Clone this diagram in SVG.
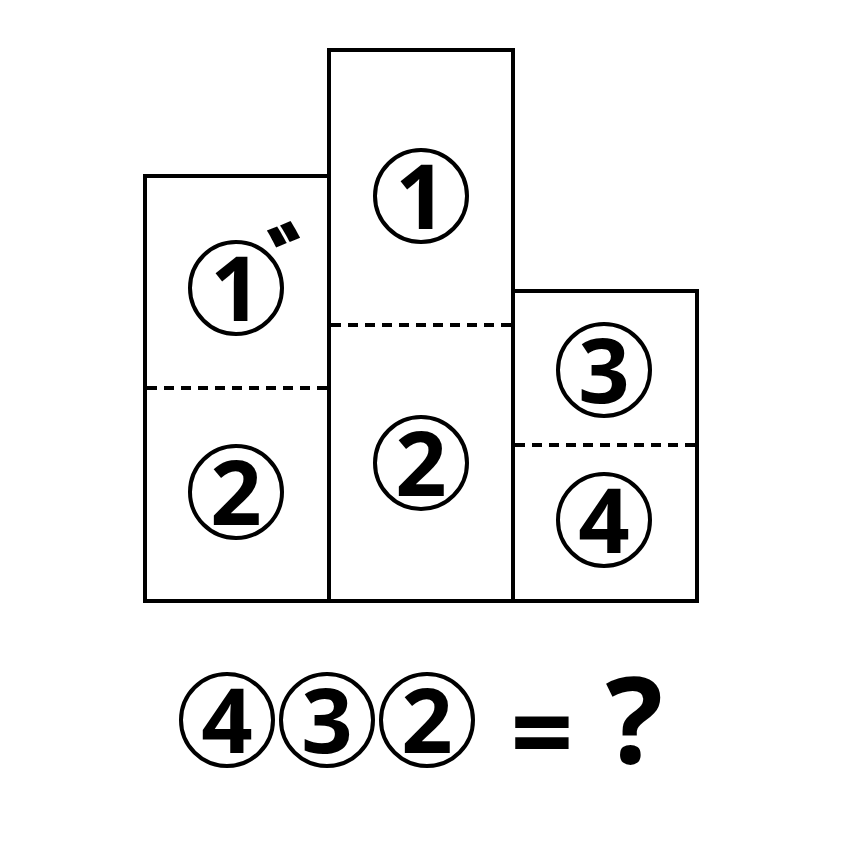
<svg xmlns="http://www.w3.org/2000/svg" width="842" height="842" viewBox="0 0 842 842">
<style>
.box{fill:#fff;stroke:#000;stroke-width:4}
.dash{stroke:#000;stroke-width:4;stroke-dasharray:10 7;fill:none}
.c{fill:none;stroke:#000;stroke-width:4}
.d{font-family:"Noto Sans","DejaVu Sans",sans-serif;font-weight:700;font-size:90px;text-anchor:middle;fill:#000}
.dk{font-family:"Noto Sans CJK JP",sans-serif;font-weight:900;font-size:100px;fill:#000}
</style>
<rect width="842" height="842" fill="#fff"/>
<g id="left">
<rect class="box" x="145" y="176" width="184" height="425"/>
<line class="dash" x1="147" y1="388" x2="327" y2="388"/>
<circle class="c" cx="236" cy="288" r="46"/>
<text class="d" x="236" y="321">1</text>
<text class="dk" x="266" y="307">゛</text>
<circle class="c" cx="236" cy="492" r="46"/>
<text class="d" x="236" y="525">2</text>
</g>
<g id="middle">
<rect class="box" x="329" y="50" width="184" height="551"/>
<line class="dash" x1="331" y1="325" x2="511" y2="325"/>
<circle class="c" cx="421" cy="196" r="46"/>
<text class="d" x="421" y="229">1</text>
<circle class="c" cx="421" cy="463" r="46"/>
<text class="d" x="421" y="496">2</text>
</g>
<g id="right">
<rect class="box" x="513" y="291" width="184" height="310"/>
<line class="dash" x1="515" y1="445" x2="695" y2="445"/>
<circle class="c" cx="604" cy="370" r="46"/>
<text class="d" x="604" y="403">3</text>
<circle class="c" cx="604" cy="520" r="46"/>
<text class="d" x="604" y="553">4</text>
</g>
<g id="equation">
<circle class="c" cx="227" cy="720" r="46"/>
<text class="d" x="227" y="753">4</text>
<circle class="c" cx="327" cy="720" r="46"/>
<text class="d" x="327" y="753">3</text>
<circle class="c" cx="427" cy="720" r="46"/>
<text class="d" x="427" y="753">2</text>
<text class="d" x="542" y="771" style="font-size:110px">=</text>
<text class="d" x="634" y="763" style="font-size:120px">?</text>
</g>
</svg>
